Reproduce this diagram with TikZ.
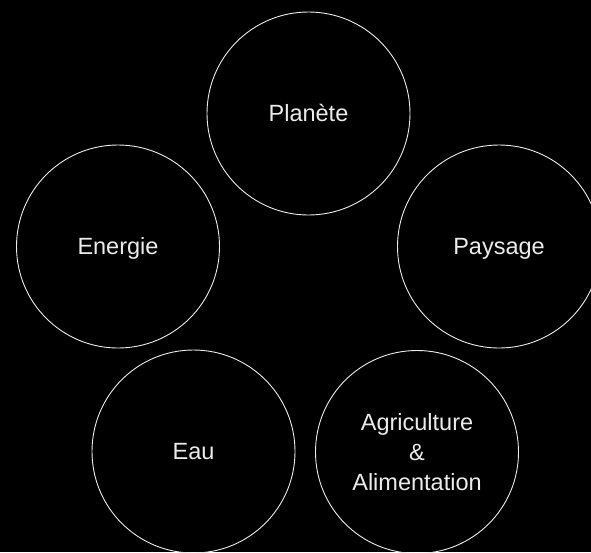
\documentclass[tikz,border=0pt]{standalone}
\usepackage{fontspec}
\setmainfont{Liberation Sans}
\begin{document}
\begin{tikzpicture}[x=1pt,y=-1pt,
  topic/.style={circle,draw=white!92!black,line width=0.9pt,minimum size=203pt,inner sep=0pt,
    text=white!92!black,font=\fontsize{23.5}{30}\selectfont,align=center},
  oneline/.style={text height=16.8pt,text depth=0pt}]
\fill[black] (0,0) rectangle (591,552);
\useasboundingbox (0,0) rectangle (591,552);
\clip (0,0) rectangle (591,552);
\node[topic,oneline] (planete) at (308.5,113.5) {Planète};
\node[topic,oneline] (energie) at (118,246.5) {Energie};
\node[topic,oneline] (paysage) at (499,246.5) {Paysage};
\node[topic,oneline] (eau) at (193.5,451.5) {Eau};
\node[topic] (agri) at (417,452) {Agriculture\\\&\\Alimentation};
\end{tikzpicture}
\end{document}
